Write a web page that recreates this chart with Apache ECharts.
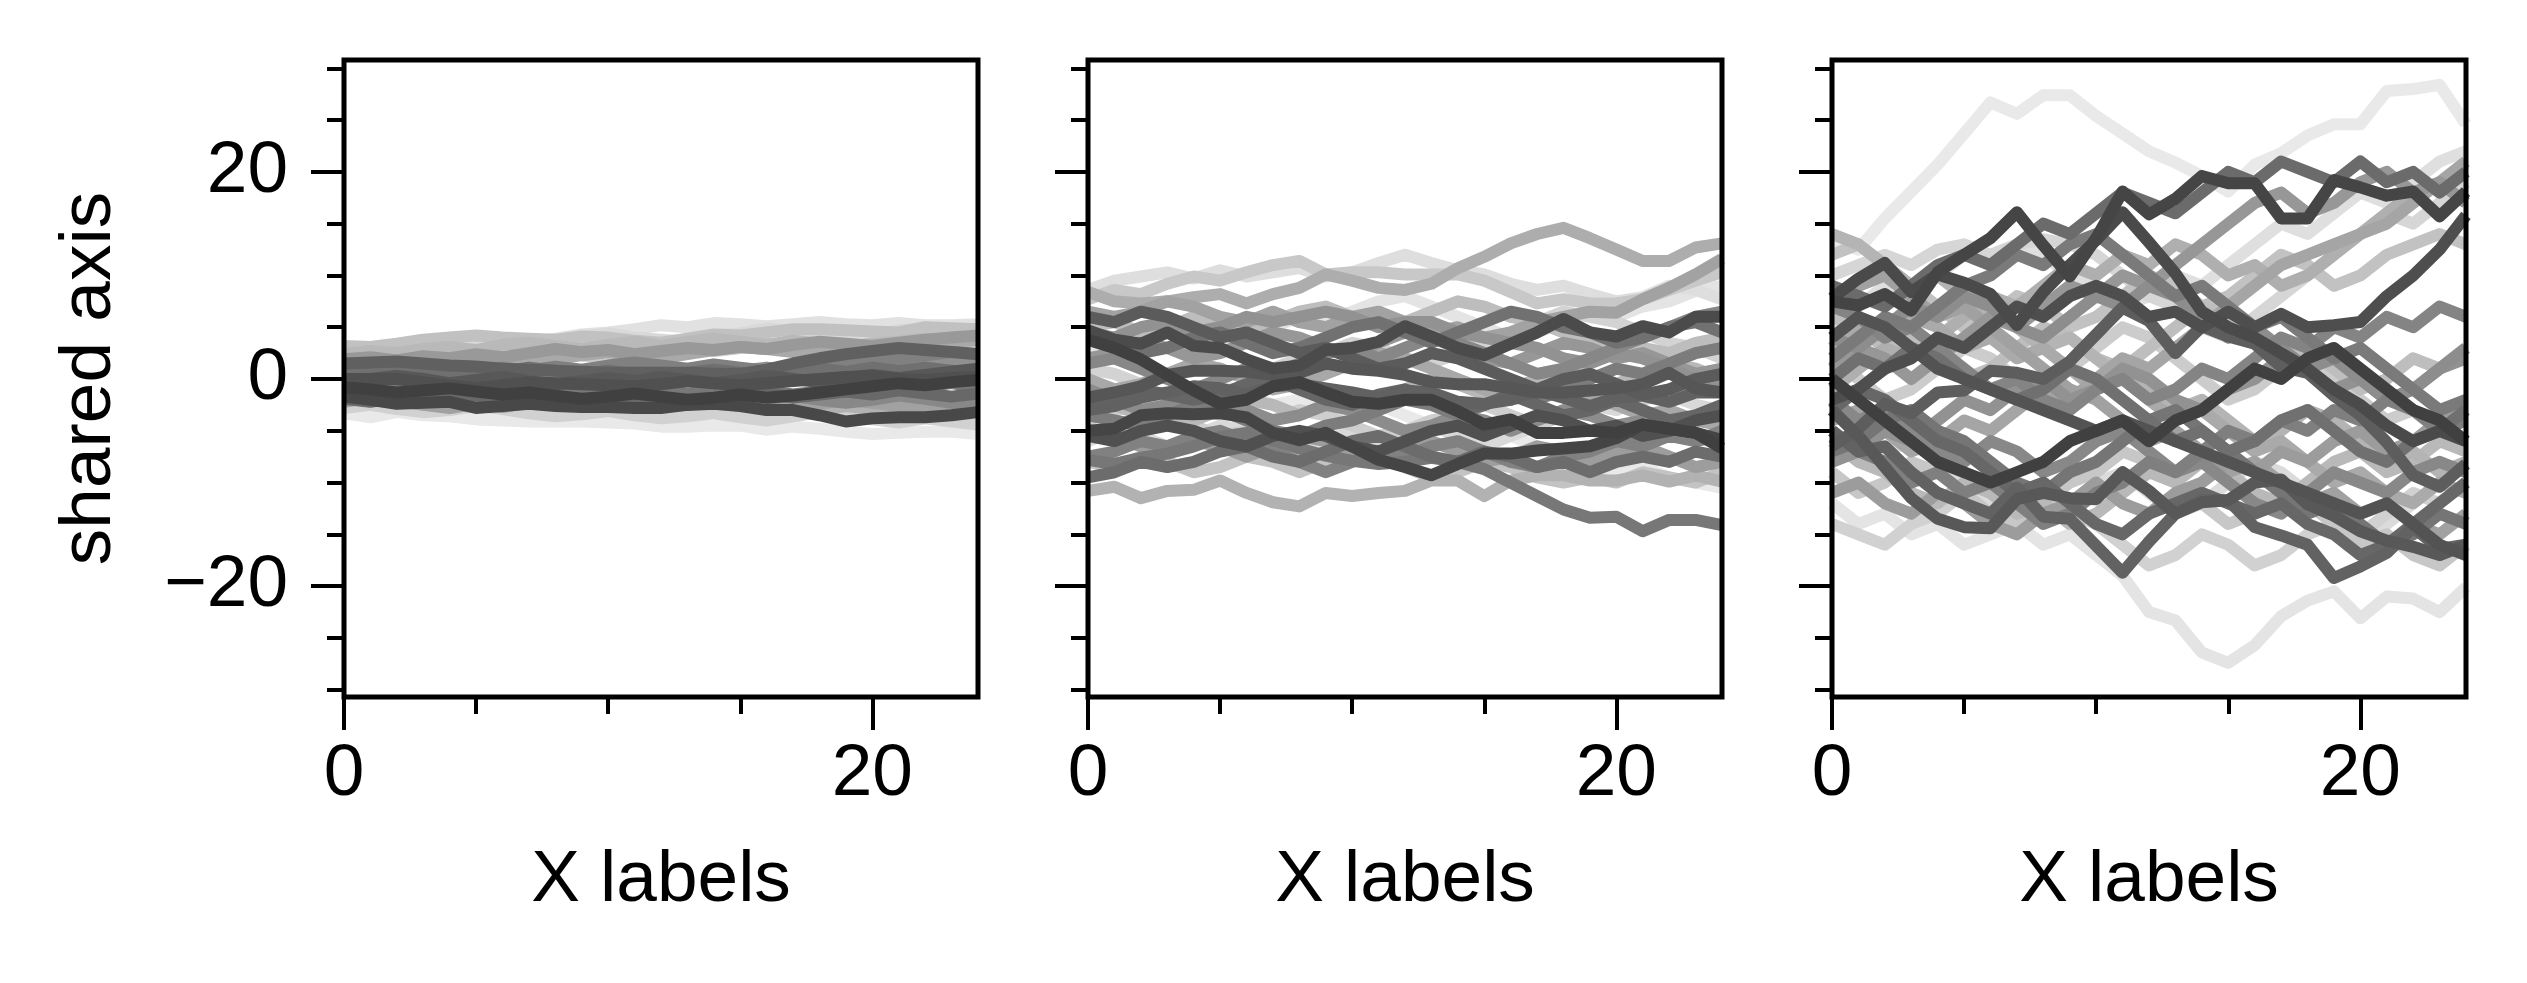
<!DOCTYPE html>
<html>
<head>
<meta charset="utf-8">
<script src="https://cdn.jsdelivr.net/npm/echarts@6/dist/echarts.min.js"></script>
<style>
  html, body { margin: 0; padding: 0; background: #fff; }
  #chart { width: 2527px; height: 983px; }
</style>
</head>
<body>
<div id="chart"></div>
<script>
// tick positions
const xTicks = [0, 20];
const xMinor = [5, 10, 15];
const yTicks = [-20, 0, 20];
const yMinor = [-30, -25, -15, -10, -5, 5, 10, 15, 25, 30];

// each row is one line (x = 0..24), rows go from lightest to darkest
const panelA = [
  [-3.3,-3.7,-3.2,-3.5,-3.6,-3.9,-4.0,-4.1,-4.1,-4.1,-4.2,-4.3,-4.6,-4.6,-4.5,-4.5,-4.9,-4.6,-4.8,-5.1,-5.3,-5.2,-5.1,-5.1,-5.3],
  [2.8,2.6,2.9,3.2,3.4,3.6,3.7,3.5,3.9,4.3,4.5,4.8,5.2,5.0,5.4,5.3,5.1,5.3,5.5,5.3,5.2,5.4,5.2,5.2,5.3],
  [1.8,2.1,2.4,2.0,2.6,3.0,3.3,3.8,3.6,4.1,4.4,4.0,3.8,3.6,4.2,4.4,4.9,4.6,4.3,4.0,4.2,4.7,4.9,4.6,4.4],
  [-2.8,-2.5,-2.9,-3.2,-3.0,-2.6,-2.9,-3.3,-3.6,-3.4,-3.1,-3.5,-3.8,-3.6,-3.3,-3.7,-4.0,-3.6,-3.2,-3.5,-3.9,-4.2,-3.8,-4.1,-4.4],
  [0.5,0.9,1.3,1.0,1.6,2.0,1.7,2.2,2.6,2.3,2.0,2.4,2.8,3.1,2.7,3.0,3.4,3.0,2.6,3.0,3.5,3.2,3.6,3.3,3.0],
  [3.2,3.1,3.4,3.8,4.0,4.2,4.0,3.9,3.8,4.1,4.0,3.7,3.5,3.9,4.3,4.2,4.5,4.8,4.8,4.7,4.6,4.5,5.0,4.9,4.8],
  [2.4,2.7,2.5,2.9,3.1,2.8,3.3,3.5,3.2,2.9,3.3,3.6,3.2,3.6,3.9,3.6,3.3,3.7,3.4,3.0,3.4,3.6,3.9,3.5,3.9],
  [-1.0,-1.4,-1.1,-1.6,-2.0,-1.7,-2.1,-1.8,-1.5,-1.9,-2.3,-2.0,-1.6,-1.9,-2.2,-2.6,-2.3,-2.7,-3.0,-2.6,-2.9,-2.5,-2.8,-2.5,-2.1],
  [1.2,1.5,1.8,1.4,1.1,1.5,1.9,2.2,1.9,2.3,2.6,2.3,2.0,2.4,2.8,3.1,2.9,2.6,3.0,3.3,3.0,3.4,3.1,3.5,3.8],
  [-2.2,-1.8,-2.1,-2.5,-2.8,-2.4,-2.7,-2.3,-2.0,-2.4,-2.7,-2.3,-2.0,-1.6,-1.9,-2.2,-1.8,-2.1,-2.4,-2.0,-2.3,-2.6,-2.9,-2.6,-3.0],
  [1.9,2.1,1.8,2.2,2.0,2.4,2.1,2.5,2.9,2.6,2.8,2.4,2.7,3.0,2.8,3.1,2.9,3.3,3.6,3.4,3.2,3.5,3.8,4.0,4.2],
  [0.2,-0.2,0.1,-0.3,0.1,0.4,0.0,-0.3,0.1,0.5,0.2,-0.1,0.3,0.7,0.4,0.8,1.1,0.8,1.2,1.5,1.2,1.6,1.9,1.6,1.3],
  [-1.5,-1.2,-0.8,-1.1,-1.5,-1.2,-0.9,-1.3,-1.6,-1.3,-1.0,-1.4,-1.8,-1.5,-1.9,-2.2,-1.9,-1.6,-2.0,-2.3,-2.0,-1.6,-1.9,-2.3,-2.6],
  [1.0,0.7,1.1,1.4,1.0,0.7,1.1,0.8,1.2,0.9,1.3,1.6,1.3,1.0,1.4,1.1,0.8,1.2,1.5,1.9,2.2,2.0,2.3,2.6,2.4],
  [-0.6,-0.9,-0.5,-0.8,-1.2,-0.9,-0.5,-0.8,-1.1,-1.4,-1.1,-0.7,-1.0,-1.4,-1.1,-0.8,-1.2,-1.5,-1.2,-0.9,-0.6,-1.0,-0.7,-0.4,-0.8],
  [0.6,0.9,1.2,0.9,0.6,1.0,0.7,1.1,0.8,0.5,0.8,0.5,0.2,0.6,0.9,0.6,0.3,0.7,1.0,0.7,1.1,0.8,1.1,0.8,0.5],
  [-1.9,-2.2,-1.8,-1.5,-1.9,-1.6,-2.0,-2.3,-2.0,-2.4,-2.1,-1.7,-2.1,-2.4,-2.0,-1.7,-1.4,-1.8,-1.5,-1.2,-1.5,-1.1,-1.4,-1.7,-1.4],
  [1.5,1.6,1.7,1.5,1.3,1.2,1.0,0.9,0.8,0.7,0.6,0.6,0.6,0.6,0.5,0.5,0.9,1.5,2.0,2.4,2.7,3.0,2.8,2.6,2.4],
  [-0.3,0.0,0.3,0.0,-0.4,-0.1,0.2,-0.2,-0.5,-0.2,0.1,-0.2,0.2,-0.1,-0.4,-0.1,0.3,0.0,-0.3,0.1,0.4,0.1,0.4,0.7,1.0],
  [0.0,0.0,0.0,-0.3,-0.6,-0.9,-0.6,-0.3,-0.4,-0.5,-0.6,-0.7,-0.5,-0.2,-0.4,-0.6,-0.4,-0.2,0.0,0.2,0.3,0.0,-0.1,0.1,0.2],
  [-1.7,-2.0,-2.4,-2.3,-2.2,-2.8,-2.6,-2.4,-2.6,-2.7,-2.7,-2.8,-2.8,-2.5,-2.4,-2.6,-3.0,-3.0,-3.5,-4.1,-3.8,-3.7,-3.7,-3.5,-3.2],
  [-0.8,-1.0,-1.3,-1.1,-0.9,-1.2,-1.5,-1.3,-1.6,-1.9,-1.7,-1.4,-1.7,-2.0,-1.8,-1.5,-1.8,-1.6,-1.3,-1.0,-0.7,-0.4,-0.6,-0.3,-0.1]
];

const panelB = [
  [-2,-1.5,-2.5,-2,-1,-0.5,-1.5,-2.5,-2,-3,-3.5,-2.5,-3.5,-4.5,-5.5,-4.5,-5.5,-6.5,-7.5,-8.5,-9,-8.5,-9.5,-10,-10.5],
  [3,2.5,3.5,4.5,3.5,3,4,5,6,5.5,6.5,7.5,8,7,6,5,4,4.5,5.5,6.5,6,7,7.5,8.5,9],
  [8.6,9.5,9.9,10.3,9.7,10.5,9.9,10.3,10.7,9.9,10.3,11.2,12.0,11.2,10.5,10.1,9.2,8.6,9.0,8.2,7.5,7.9,9.0,8.6,7.7],
  [-6,-5,-5.5,-6.5,-5.5,-4.5,-5,-6,-7,-6,-5,-6,-5.5,-4.5,-5.5,-6.5,-5.5,-4.5,-3.5,-2.5,-3,-2,-1.5,-2.5,-3],
  [1,0.5,-0.5,0.5,1.5,1,0,1,2,2.5,3.5,3,2,1.5,2.5,3.5,4.5,5.5,6.5,6,5.5,4.5,3.5,3,2],
  [-4,-3,-2.5,-3.5,-4.5,-5.5,-5,-4,-3,-3.5,-4.5,-5.5,-5,-4,-3.5,-2.5,-3.5,-4.5,-3.5,-2.5,-1.5,-2,-1,-0.5,0.5],
  [7.7,8.6,8.2,9.2,9.9,9.5,10.3,11.0,11.4,10.1,10.3,10.3,10.1,10.1,10.1,9.5,8.4,7.3,7.7,7.3,7.3,7.7,8.6,9.5,10.3],
  [-8,-8.5,-7.5,-8,-9,-8.5,-7.5,-8,-9,-8,-7,-7.5,-8.5,-9.5,-9,-8,-8.5,-9.5,-10,-9.5,-10,-9,-9.5,-10,-9],
  [5,5.5,4.5,5,6,5.5,4.5,5.5,6.5,7,6,5,5.5,6.5,7.5,7,6,5.5,4.5,3.5,4,3,2.5,3.5,4],
  [-3,-2.5,-3.5,-4.5,-4,-3,-2,-2.5,-3.5,-2.5,-1.5,-2,-1,0,-0.5,-1.5,-1,0,1,0.5,-0.5,0.5,1.5,1,0],
  [-10.8,-10.4,-11.5,-10.8,-10.7,-9.8,-11.0,-11.9,-12.3,-11.0,-11.3,-11.0,-10.8,-9.8,-9.8,-11.3,-9.8,-9.3,-9.3,-9.8,-9.8,-9.3,-9.9,-9.3,-9.9],
  [8.4,7.5,7.3,7.5,7.9,8.2,7.3,8.2,8.8,10.1,9.5,8.8,8.6,9.2,10.7,11.8,13.1,14.0,14.6,13.6,12.5,11.4,11.4,12.7,13.1],
  [0,-1,-0.5,0.5,1.5,1,0,-1,-0.5,0.5,1.5,2.5,2,1,0,-1,-2,-1.5,-0.5,-1.5,-2.5,-3.5,-3,-4,-4.5],
  [6.5,6,6.5,7.5,7,6,5.5,6.5,5.5,5,6,6.5,5.5,4.5,5,4,4.5,5.5,6,6.5,6.4,7.7,8.8,10.1,11.6],
  [-5,-5.5,-6.5,-7,-6,-6.5,-7.5,-6.5,-5.5,-6,-7,-8,-7,-6,-7,-8,-7.5,-6.5,-7,-8,-7,-6.5,-7.5,-8.5,-8],
  [2,2.5,3.5,3,2,2.5,3.5,4.5,4,3,2.5,3.5,4.5,4,3,2,1.5,2.5,3.5,3,2,2.5,1.5,0.5,1],
  [4.5,4,5,5.5,4.5,5,6,5.5,6,6.5,6,5,5.5,5.5,4.5,4,3.5,3,2,1.5,2.5,2,1,0,-0.5],
  [-1,-2,-3,-2.5,-1.5,-2,-3,-4,-3.5,-2.5,-3,-4,-5,-4.5,-3.5,-4,-5,-4,-3,-3.5,-4.5,-4,-5,-6,-5.5],
  [1.5,2,1,0,-1,0,1,0.5,1.5,2.5,3,2,3,4,3.5,2.5,1.5,0.5,1,2,3,4,5,6,6.5],
  [-7.5,-7,-6,-6.5,-5.5,-5,-6,-7,-8,-9,-8,-7,-7.5,-6.5,-6,-7,-8,-8.5,-7.5,-7,-6,-6.5,-5.5,-6,-5],
  [-3.5,-4,-4.5,-3.5,-2.5,-3,-4,-5,-5.5,-4.5,-4,-3,-2,-2.5,-3.5,-2.5,-1.5,-2,-1,0,1,0.5,1.5,2.5,3],
  [-7.8,-8.2,-7.6,-7.2,-6.5,-5.6,-5.2,-5.9,-6.7,-7.4,-7.9,-8.2,-8.0,-7.6,-8.0,-8.7,-10.0,-11.3,-12.6,-13.4,-13.3,-14.7,-13.6,-13.6,-14.1],
  [4,3.5,2.5,3,4,4.5,3.5,2.5,3,4,5,5.5,4.5,3.5,4.5,5.5,6.5,6,5,4.5,3.5,4,5,5.5,4.5],
  [-9.5,-9,-8,-8.5,-8,-7,-6.5,-7.5,-8,-7,-6,-5.5,-6.5,-7.5,-8,-7,-7.5,-8.5,-8,-9,-8,-7.5,-8,-7,-7.5],
  [-2.5,-2,-1,-1.5,-2,-1.5,-0.5,0,-1,-2,-2.5,-1.5,-1,-2,-3,-2.5,-1.5,-2.5,-3.5,-3,-2,-3,-4,-3.5,-2.5],
  [-3.0,-2.6,-1.8,-1.3,-0.7,-0.9,-1.5,-0.7,-0.5,-0.9,-1.3,-1.8,-1.1,-1.3,-2.2,-2.4,-2.0,-1.1,-1.8,-2.6,-1.8,-1.6,-2.2,-1.3,-1.3],
  [6,5.5,6.5,6,5,4,4.5,3.5,2.5,3,2,1,1.5,2.5,2,1,0,-1,0,0.5,-0.5,-1.5,-1,0,0.5],
  [-1.8,-1.3,-0.7,0.4,0.8,0.8,0.7,0.4,0.6,1.5,1.0,0.8,0.4,-0.3,-0.5,-0.5,-0.9,-1.3,-1.3,-1.1,-0.9,-0.5,0.6,-0.9,-1.3],
  [-5.5,-6,-5,-4.5,-5,-6,-6.5,-5.5,-5,-5.5,-6.5,-7,-6,-5,-4.5,-5.5,-4.5,-3.5,-4,-5,-4.5,-5.5,-5,-4,-3.5],
  [4.7,3.8,3.4,4.5,3.2,3.0,1.9,1.0,1.3,2.8,3.0,3.6,5.1,4.1,3.0,2.3,3.4,4.5,5.8,4.5,4.1,5.1,4.5,6.0,6.0],
  [-5.0,-4.8,-3.5,-3.3,-3.4,-3.3,-3.7,-5.2,-5.9,-5.2,-6.5,-7.8,-8.5,-9.3,-8.2,-7.2,-7.2,-6.9,-6.7,-6.5,-5.7,-4.4,-4.8,-5.2,-5.9],
  [3.8,3.0,1.9,0.4,-1.1,-2.4,-2.0,-0.7,-0.3,-1.3,-2.2,-2.4,-2.0,-2.0,-3.1,-4.4,-3.9,-5.2,-5.2,-5.0,-5.2,-4.4,-4.8,-5.2,-6.7]
];

const panelC = [
  [13.5,12.5,15.5,18.1,20.7,23.7,26.7,25.6,27.4,27.4,25.4,23.7,22.0,20.9,19.6,18.1,20.7,21.8,23.5,24.6,24.6,27.8,28.0,28.4,24.6],
  [-12,-14,-13,-15,-14,-16,-15,-14,-16,-15,-17,-19,-22.5,-23.3,-26.4,-27.4,-25.7,-22.9,-21.4,-20.5,-23.1,-21.0,-21.2,-22.5,-20.1],
  [5,7,9,8,10,12,11,13,12,10,9,7,8,10,9,11,13,15,14,16,18,17,19,21,22],
  [-3,-5,-7,-6,-8,-10,-12,-11,-13,-12,-10,-9,-11,-13,-12,-10,-8,-9,-11,-13,-15,-14,-12,-10,-11],
  [10,11,12,11,12.5,13,12,13,13.5,13,12,10,8,7,5,4,6,8,10,12,14,16,15,17,19],
  [-14,-15,-16,-14,-13,-11,-10,-12,-11,-13,-14,-16,-18,-17,-15,-16,-18,-17,-15,-14,-15,-13,-11,-12,-10],
  [2,0,-2,-1,1,3,2,0,-1,1,3,5,4,2,0,-2,-1,1,2,0,-2,-4,-3,-5,-6],
  [-9,-11,-10,-8,-9,-11,-13,-14,-12,-10,-9,-7,-8,-10,-12,-14,-13,-11,-12,-14,-16,-15,-17,-18,-16],
  [12,13,11,9,7,5,6,8,7,5,6,8,10,9,7,8,10,12,11,9,10,12,13,14,13],
  [6,5,3,4,2,0,1,3,5,4,2,1,3,5,7,6,4,2,3,1,-1,0,2,1,3],
  [-6,-8,-9,-11,-12,-10,-11,-13,-12,-14,-13,-11,-9,-10,-8,-9,-11,-12,-10,-8,-7,-9,-8,-6,-7],
  [14,13,11,9,10,8,6,5,3,4,2,0,-1,-3,-2,-4,-6,-5,-3,-4,-6,-8,-7,-9,-8],
  [-1,1,3,2,4,6,8,7,9,11,10,12,11,13,12,10,11,9,10,12,14,16,18,19,20],
  [3,5,4,6,5,3,4,2,3,1,-1,0,-2,-4,-3,-5,-7,-6,-8,-10,-9,-11,-12,-10,-11],
  [-4,-3,-5,-7,-6,-4,-5,-3,-1,-2,0,2,1,3,5,7,9,11,12,13,14,15,17,19,21],
  [8,9,10,8,6,7,5,3,1,-1,-2,-4,-6,-5,-7,-9,-8,-10,-12,-11,-13,-12,-14,-15,-13],
  [-11,-10,-12,-13,-11,-12,-14,-15,-13,-12,-10,-12,-13,-11,-10,-8,-9,-7,-8,-6,-5,-7,-6,-4,-3],
  [1,3,2,0,2,4,6,5,7,9,8,10,9,11,13,15,17,18,16,17,19,20,18,19,17],
  [-8,-7,-5,-6,-4,-2,-3,-1,0,-2,-1,1,0,-2,-3,-1,0,2,1,-1,0,-2,-1,1,2],
  [4,3,5,7,6,8,7,5,4,6,8,7,9,8,6,4,5,3,1,2,0,-2,-1,1,3],
  [-2,-4,-3,-5,-7,-8,-6,-7,-9,-8,-6,-5,-7,-9,-8,-10,-12,-13,-11,-9,-10,-11,-9,-8,-9],
  [7,6,4,5,3,1,-1,0,-2,-3,-1,0,-2,-1,1,0,2,4,3,5,4,6,5,7,6],
  [-5,-7,-8,-10,-9,-11,-10,-12,-14,-13,-11,-10,-8,-9,-7,-5,-6,-4,-5,-3,-4,-2,-3,-5,-4],
  [2,4,6,5,7,9,10,12,11,13,14,12,10,8,9,7,5,6,4,2,3,1,-1,-3,-2],
  [-7,-6,-4,-3,-5,-6,-8,-10,-11,-9,-8,-6,-4,-3,-5,-7,-9,-11,-13,-12,-14,-16,-15,-13,-14],
  [0,2,1,3,2,0,-1,-2,-1,1,0,-2,-4,-6,-5,-7,-6,-4,-3,-5,-7,-8,-6,-5,-3],
  [9,8,7,9,11,12,11,13,15,14,16,18,17,16,18,20,19,21,20,19,21,19,20,18,20],
  [-3,-1,-2,-4,-6,-7,-9,-11,-10,-12,-14,-15,-13,-12,-11,-12,-13,-12,-14,-15,-17,-16,-14,-12,-10],
  [-5,-7,-6.5,-9,-11,-12,-13.0,-10.5,-13.3,-13.5,-16.1,-18.7,-15.7,-13.0,-11.7,-11.7,-14.3,-15.1,-16.0,-19.2,-18.1,-16.8,-14.3,-16.4,-16.0],
  [-6.5,-4.8,-2.4,-3.3,-1.3,-1.1,0.8,0.6,0.0,1.7,4.3,6.9,5.6,2.5,5.1,4.1,3.4,1.2,0.6,-1.6,-3.5,-6.1,-9.3,-10.4,-8.2],
  [-3,-5.5,-8.5,-11.5,-13.5,-14.3,-14.4,-11.6,-11,-11.5,-11.6,-9,-10.8,-13,-11.9,-11.7,-10,-9.7,-12.1,-13.2,-14.7,-15.6,-16.2,-17,-16],
  [4,6,5,3,1,0,-1,-2,-3,-4,-5,-4,-5,-6,-7,-8,-9,-10,-11,-12,-13,-12,-14,-16,-17],
  [-2,-1,1,2,4,3,5,7,6,8,9,8,6,6.5,5,6.5,5,6.3,5,5.2,5.5,8,10,12.5,15.8],
  [7.8,9.7,11.2,8.4,10.1,9.3,8.2,5.2,8.4,11.0,13.4,16.1,13.2,10.2,6.5,5.0,4.0,2.5,1.0,-1.0,-2.5,-4.5,-6.0,-5.0,-6.0],
  [7.5,7.1,8.2,6.6,10.3,12.0,13.6,16.1,12.9,9.9,13.6,18.1,15.9,17.4,19.6,18.9,18.9,15.5,15.5,19.2,18.5,17.7,18.1,15.7,18.1],
  [0,-2,-4,-6,-8,-9,-10,-9,-8,-6,-5,-4,-6,-4,-3,-1,1,0,2,3,1,-1,-3,-4,-6]
];

const panels = [panelA, panelB, panelC];
const gridLeft = [344, 1088, 1832];

const font = 'Liberation Sans, Arial, Helvetica, sans-serif';
const fs = 73;

// light grey -> dark grey along the drawing order
function shade(k, n) {
  const g = Math.round(233 - (233 - 64) * k / (n - 1));
  return 'rgb(' + g + ',' + g + ',' + g + ')';
}

let grid = [], xAxis = [], yAxis = [], series = [];

panels.forEach((rows, i) => {
  grid.push({
    left: gridLeft[i], top: 60, width: 634, height: 637,
    show: true, borderColor: '#000', borderWidth: 5,
    backgroundColor: 'transparent', z: 10,
    containLabel: false, outerBoundsMode: 'none'
  });

  // major x ticks + labels
  xAxis.push({
    gridIndex: i, type: 'value', min: 0, max: 24, position: 'bottom',
    axisLine: { show: false, onZero: false },
    splitLine: { show: false },
    axisTick: { show: true, customValues: xTicks, length: 33, lineStyle: { color: '#000', width: 4 } },
    axisLabel: { customValues: xTicks, margin: 41, fontSize: fs, color: '#000', fontFamily: font },
    name: 'X labels', nameLocation: 'middle', nameGap: 147,
    nameTextStyle: { fontSize: fs, color: '#000', fontFamily: font }
  });
  // minor x ticks
  xAxis.push({
    gridIndex: i, type: 'value', min: 0, max: 24, position: 'bottom',
    axisLine: { show: false, onZero: false },
    splitLine: { show: false },
    axisTick: { show: true, customValues: xMinor, length: 17, lineStyle: { color: '#000', width: 4 } },
    axisLabel: { show: false }
  });

  yAxis.push({
    gridIndex: i, type: 'value', min: -30.7, max: 30.8, position: 'left',
    axisLine: { show: false, onZero: false },
    splitLine: { show: false },
    axisTick: { show: true, customValues: yTicks, length: 33, lineStyle: { color: '#000', width: 4 } },
    axisLabel: {
      show: i === 0, customValues: yTicks, margin: 56, fontSize: fs, color: '#000', fontFamily: font,
      formatter: v => (v < 0 ? '\u2212' + Math.abs(v) : String(v))
    },
    name: i === 0 ? 'shared axis' : '', nameLocation: 'middle', nameGap: 218,
    nameTextStyle: { fontSize: fs, color: '#000', fontFamily: font }
  });
  yAxis.push({
    gridIndex: i, type: 'value', min: -30.7, max: 30.8, position: 'left',
    axisLine: { show: false, onZero: false },
    splitLine: { show: false },
    axisTick: { show: true, customValues: yMinor, length: 17, lineStyle: { color: '#000', width: 4 } },
    axisLabel: { show: false }
  });

  rows.forEach((vals, k) => {
    series.push({
      type: 'line',
      xAxisIndex: 2 * i, yAxisIndex: 2 * i,
      data: vals.map((v, j) => [j, v]),
      showSymbol: false, symbol: 'none',
      lineStyle: { width: 12, color: shade(k, rows.length), join: 'round' },
      clip: true, silent: true, animation: false
    });
  });
});

let chart = echarts.init(document.getElementById('chart'), null, { renderer: 'canvas' });
chart.setOption({
  backgroundColor: '#fff',
  animation: false,
  grid: grid,
  xAxis: xAxis,
  yAxis: yAxis,
  series: series
});
</script>
</body>
</html>
